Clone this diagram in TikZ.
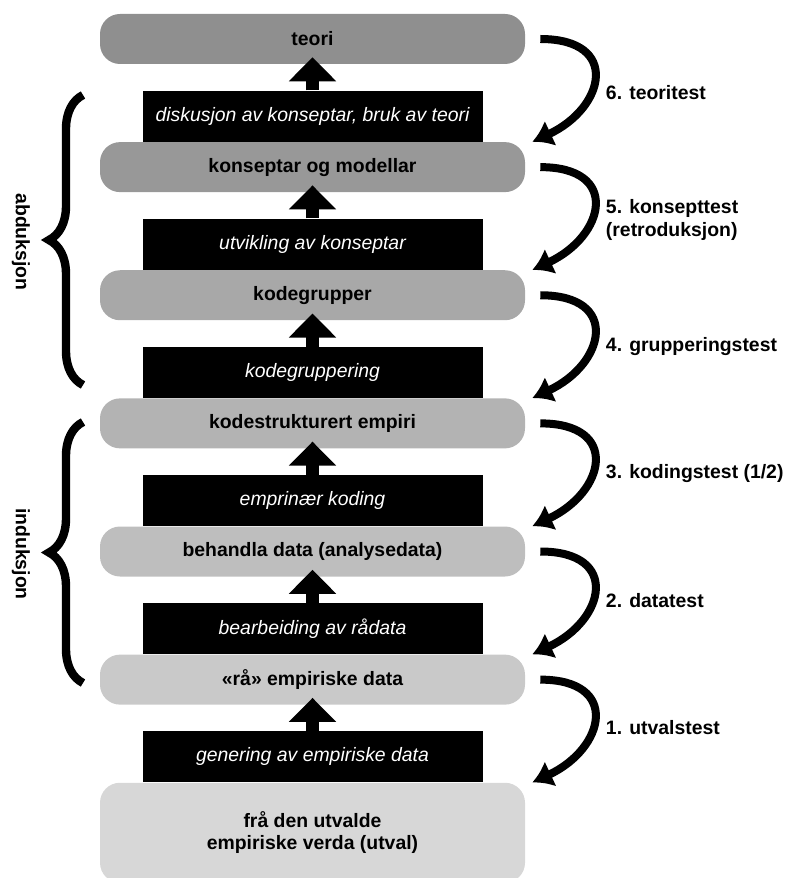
\documentclass[tikz,border=0pt]{standalone}
\usepackage{fontspec}
\setmainfont{Liberation Sans}
\usepackage{xcolor}
\usetikzlibrary{positioning,arrows.meta,decorations.pathreplacing}

\definecolor{teorigray}{RGB}{143,143,143}
\definecolor{konseptgray}{RGB}{152,152,152}
\definecolor{kodegrgray}{RGB}{168,168,168}
\definecolor{kodestrgray}{RGB}{179,179,179}
\definecolor{behandlagray}{RGB}{190,190,190}
\definecolor{raagray}{RGB}{201,201,201}
\definecolor{utvalgray}{RGB}{215,215,215}

\begin{document}
\begin{tikzpicture}[
    node distance=0.65cm,
    stagebox/.style={rectangle, rounded corners=0.5cm, minimum width=10.625cm, minimum height=1.25cm, align=center, font=\fontsize{13.8}{16}\selectfont\bfseries},
    actbox/.style={rectangle, fill=black, text=white, minimum width=8.5cm, minimum height=1.275cm, font=\fontsize{13.8}{16}\selectfont\itshape},
    uparrow/.style={-{Triangle[width=1.15cm,length=0.6cm]}, line width=0.34cm},
    testarrow/.style={-{Latex[width=0.7cm,length=0.5cm]}, line width=0.2cm},
    testlabel/.style={anchor=west, align=left, font=\fontsize{13.8}{16}\selectfont\bfseries},
    sidelabel/.style={rotate=-90, font=\fontsize{13.8}{16}\selectfont\bfseries},
    bracket/.style={decorate, decoration={brace, amplitude=0.85cm}, line width=0.21cm}
]
    \useasboundingbox (0,0) rectangle (19.75,-21.95);

    % Levels
    \node[stagebox, fill=teorigray] (teori) at (7.8125,-0.975) {teori};
    \node[actbox, below=of teori] (diskusjon) {diskusjon av konseptar, bruk av teori};
    \node[stagebox, fill=konseptgray, below=0pt of diskusjon] (konsept) {konseptar og modellar};
    \node[actbox, below=of konsept] (utvikling) {utvikling av konseptar};
    \node[stagebox, fill=kodegrgray, below=0pt of utvikling] (kodegr) {kodegrupper};
    \node[actbox, below=of kodegr] (gruppering) {kodegruppering};
    \node[stagebox, fill=kodestrgray, below=0pt of gruppering] (kodestr) {kodestrukturert empiri};
    \node[actbox, below=of kodestr] (koding) {emprinær koding};
    \node[stagebox, fill=behandlagray, below=0pt of koding] (behandla) {behandla data (analysedata)};
    \node[actbox, below=of behandla] (bearbeiding) {bearbeiding av rådata};
    \node[stagebox, fill=raagray, below=0pt of bearbeiding] (raa) {«rå» empiriske data};
    \node[actbox, below=of raa] (genering) {genering av empiriske data};
    \node[stagebox, fill=utvalgray, minimum height=2.5cm, below=0pt of genering] (utval) {frå den utvalde\\empiriske verda (utval)};

    % Up arrows
    \draw[uparrow] (diskusjon.north) -- ([yshift=0.175cm]teori.south);
    \draw[uparrow] (utvikling.north) -- ([yshift=0.175cm]konsept.south);
    \draw[uparrow] (gruppering.north) -- ([yshift=0.175cm]kodegr.south);
    \draw[uparrow] (koding.north) -- ([yshift=0.175cm]kodestr.south);
    \draw[uparrow] (bearbeiding.north) -- ([yshift=0.175cm]behandla.south);
    \draw[uparrow] (genering.north) -- ([yshift=0.175cm]raa.south);

    % Tests
    \draw[testarrow] ([xshift=0.375cm]teori.east) to[out=0,in=25,looseness=2] ([xshift=0.175cm]konsept.north east);
    \draw[testarrow] ([xshift=0.375cm]konsept.east) to[out=0,in=25,looseness=2] ([xshift=0.175cm]kodegr.north east);
    \draw[testarrow] ([xshift=0.375cm]kodegr.east) to[out=0,in=25,looseness=2] ([xshift=0.175cm]kodestr.north east);
    \draw[testarrow] ([xshift=0.375cm]kodestr.east) to[out=0,in=25,looseness=2] ([xshift=0.175cm]behandla.north east);
    \draw[testarrow] ([xshift=0.375cm]behandla.east) to[out=0,in=25,looseness=2] ([xshift=0.175cm]raa.north east);
    \draw[testarrow] ([xshift=0.375cm]raa.east) to[out=0,in=25,looseness=2] ([xshift=0.175cm]utval.north east);

    \node[testlabel] (t6) at (15.025,-2.325) {6. teoritest};
    \node[testlabel] (t5) at (15.025,-5.5) {5. konsepttest\\(retroduksjon)};
    \node[testlabel] (t4) at (15.025,-8.675) {4. grupperingstest};
    \node[testlabel] (t3) at (15.025,-11.85) {3. kodingstest (1/2)};
    \node[testlabel] (t2) at (15.025,-15.025) {2. datatest};
    \node[testlabel] (t1) at (15.025,-18.2) {1. utvalstest};

    % Braces
    \draw[bracket] (2.075,-9.625) -- (2.075,-2.375);
    \node[sidelabel] (abd) at (0.525,-6.05) {abduksjon};
    \draw[bracket] (2.075,-17.075) -- (2.075,-10.55);
    \node[sidelabel] (ind) at (0.525,-13.85) {induksjon};

\end{tikzpicture}
\end{document}
